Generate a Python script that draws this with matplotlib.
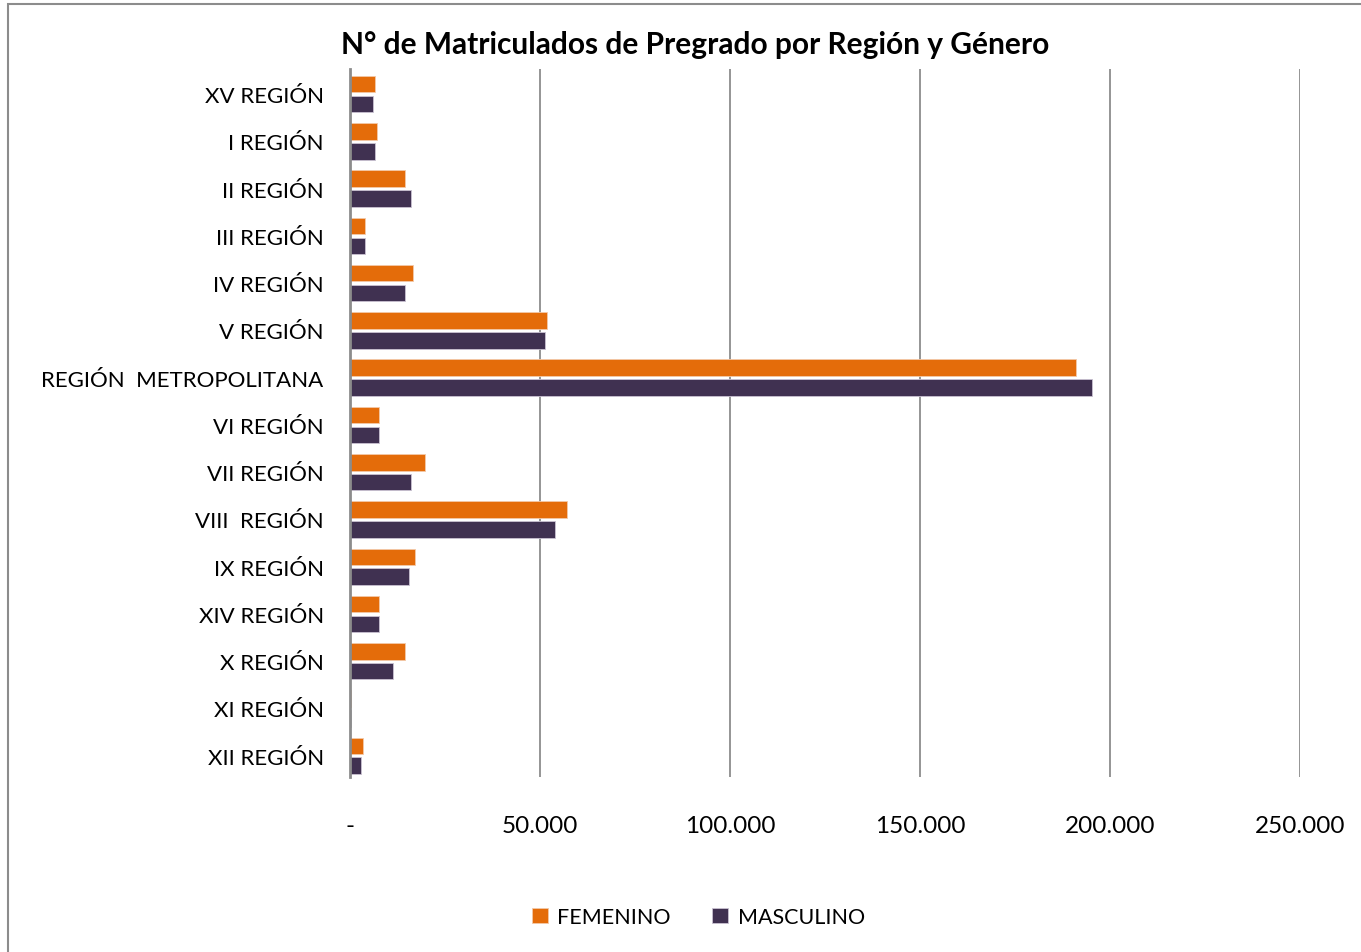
import matplotlib.pyplot as plt
from matplotlib.patches import Rectangle
from matplotlib.ticker import FuncFormatter
import numpy as np

# datos
regiones = ['XV REGIÓN', 'I REGIÓN', 'II REGIÓN', 'III REGIÓN', 'IV REGIÓN',
            'V REGIÓN', 'REGIÓN  METROPOLITANA', 'VI REGIÓN', 'VII REGIÓN',
            'VIII  REGIÓN', 'IX REGIÓN', 'XIV REGIÓN', 'X REGIÓN', 'XI REGIÓN',
            'XII REGIÓN']
femenino = [6650, 7000, 14550, 4000, 16600, 51850, 191100, 7700, 19800,
            57100, 17200, 7700, 14550, 150, 3500]
masculino = [6100, 6650, 16050, 4000, 14550, 51300, 195300, 7700, 16050,
             54000, 15600, 7700, 11400, 150, 3000]
ticks = [0, 50000, 100000, 150000, 200000, 250000]

col_fem = '#E46C0A'
col_mas = '#403151'

plt.rcParams['font.family'] = ['Lato', 'DejaVu Sans']

fig = plt.figure(figsize=(13.61, 9.53), dpi=100)
ax = fig.add_axes([0.2572, 0.1836, 0.698, 0.7429])

y = np.arange(len(regiones))
h = 0.35
ax.barh(y - 0.21, femenino, height=h, color=col_fem, label='FEMENINO',
        edgecolor='#f3c9a8', linewidth=0.6, zorder=3)
ax.barh(y + 0.21, masculino, height=h, color=col_mas, label='MASCULINO',
        edgecolor='#c9c2d2', linewidth=0.6, zorder=3)

ax.set_ylim(14.45, -0.53)
ax.set_xlim(0, 250000)
ax.set_yticks(y)
ax.set_yticklabels(regiones, fontsize=16)
ax.set_xticks(ticks)
ax.xaxis.set_major_formatter(FuncFormatter(
    lambda v, p: '-' if v == 0 else '{:,.0f}'.format(v).replace(',', '.')))
ax.tick_params(axis='x', labelsize=17.5, length=0, pad=27)
ax.tick_params(axis='y', length=0, pad=19)
ax.grid(True, axis='x', color='#8c8c8c', linewidth=1.3, zorder=0)
for s in ['top', 'right', 'bottom']:
    ax.spines[s].set_visible(False)
ax.spines['left'].set_color('#8c8c8c')
ax.spines['left'].set_linewidth(2)
ax.spines['left'].set_zorder(4)

fig.text(0.5107, 1 - 45 / 953, 'N° de Matriculados de Pregrado por Región y Género',
         ha='center', va='center', fontsize=21.5, fontweight='bold')

fig.legend(loc='center', bbox_to_anchor=(0.513, 1 - 918 / 953), ncol=2,
           frameon=False, fontsize=15.5, handlelength=0.75, handleheight=0.75,
           handletextpad=0.45, columnspacing=1.9)

# marco del grafico
fig.patches.append(Rectangle((8 / 1361, -0.05), 1.1, 1 - 5 / 953 + 0.05,
                             transform=fig.transFigure, fill=False,
                             edgecolor='#8c8c8c', linewidth=1.5))

fig.savefig('out.png', dpi=100)
